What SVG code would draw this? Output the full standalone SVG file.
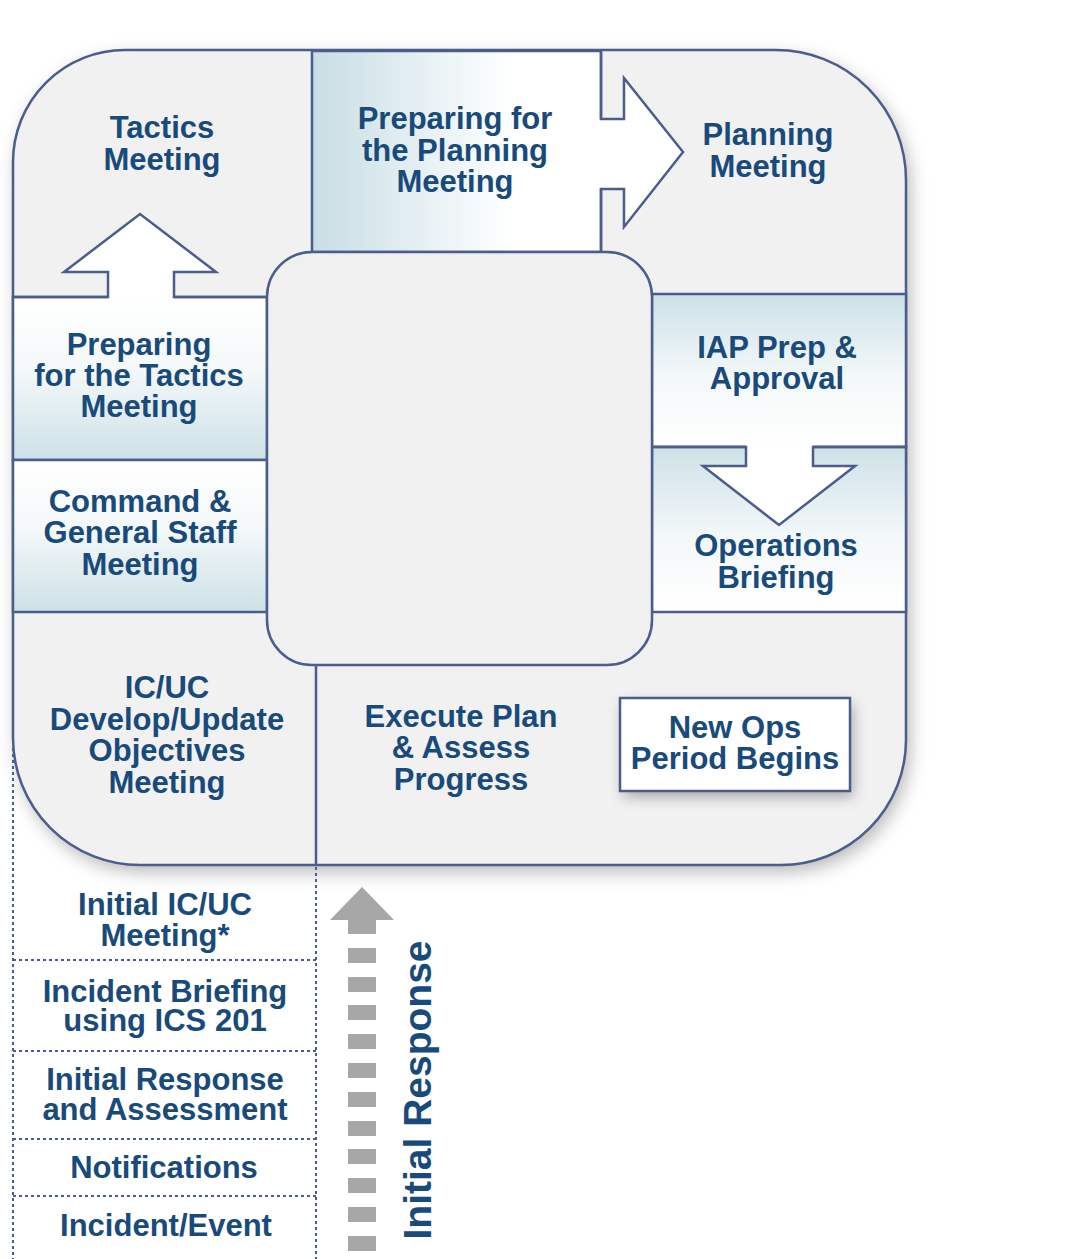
<svg xmlns="http://www.w3.org/2000/svg" width="1068" height="1259" viewBox="0 0 1068 1259">
<defs>
<style>
.ln{fill:none;stroke:#4a5d8c;stroke-width:2.5}
.dot{fill:none;stroke:#4a5d8c;stroke-width:2;stroke-dasharray:3 3}
.t{font-family:"Liberation Sans",Arial,Helvetica,sans-serif;font-weight:bold;font-size:31px;fill:#184a7b;text-anchor:middle}
.ar{fill:#ffffff;stroke:none}
</style>
<filter id="sh" x="-10%" y="-10%" width="125%" height="125%">
<feDropShadow dx="4" dy="7" stdDeviation="9" flood-color="#000" flood-opacity="0.28"/>
</filter>
<filter id="sh2" x="-20%" y="-20%" width="150%" height="160%">
<feDropShadow dx="3" dy="6" stdDeviation="7" flood-color="#000" flood-opacity="0.3"/>
</filter>
<linearGradient id="gH" x1="0" y1="0" x2="1" y2="0">
<stop offset="0" stop-color="#c8dee5"/>
<stop offset="0.7" stop-color="#ffffff"/>
<stop offset="1" stop-color="#ffffff"/>
</linearGradient>
<linearGradient id="gUp" x1="0" y1="0" x2="0" y2="1">
<stop offset="0" stop-color="#ffffff"/>
<stop offset="0.45" stop-color="#f4f8f9"/>
<stop offset="1" stop-color="#cde1e7"/>
</linearGradient>
<linearGradient id="gDn" x1="0" y1="0" x2="0" y2="1">
<stop offset="0" stop-color="#cde1e7"/>
<stop offset="0.55" stop-color="#f4f8f9"/>
<stop offset="1" stop-color="#ffffff"/>
</linearGradient>
</defs>
<rect x="0" y="0" width="1068" height="1259" fill="#ffffff"/>
<path id="outer" d="M 125 50 H 776 A 130 130 0 0 1 906 180 V 740 A 125 125 0 0 1 781 865 H 140 A 127 127 0 0 1 13 738 V 162 A 112 112 0 0 1 125 50 Z" fill="#f1f1f1" filter="url(#sh)"/>
<path d="M 125 50 H 776 A 130 130 0 0 1 906 180 V 740 A 125 125 0 0 1 781 865 H 140 A 127 127 0 0 1 13 738 V 162 A 112 112 0 0 1 125 50 Z" class="ln"/>

<g id="prep-planning">
<rect x="312" y="51" width="289" height="201" fill="url(#gH)" class="ln" style="fill:url(#gH)"/>
<text class="t" x="455" y="129">Preparing for</text>
<text class="t" x="455" y="161">the Planning</text>
<text class="t" x="455" y="192">Meeting</text>
</g>
<g id="prep-tactics">
<rect x="13" y="297" width="254" height="163" class="ln" style="fill:url(#gUp)"/>
<text class="t" x="139" y="355">Preparing</text>
<text class="t" x="139" y="386">for the Tactics</text>
<text class="t" x="139" y="417">Meeting</text>
</g>
<g id="command-general-staff">
<rect x="13" y="460" width="254" height="152" class="ln" style="fill:url(#gUp)"/>
<text class="t" x="140" y="512">Command &amp;</text>
<text class="t" x="140" y="543">General Staff</text>
<text class="t" x="140" y="575">Meeting</text>
</g>
<g id="iap-prep">
<rect x="652" y="294" width="254" height="153" class="ln" style="fill:url(#gDn)"/>
<text class="t" x="777" y="358">IAP Prep &amp;</text>
<text class="t" x="777" y="389">Approval</text>
</g>
<g id="operations-briefing">
<rect x="652" y="447" width="254" height="165" class="ln" style="fill:url(#gDn)"/>
<text class="t" x="776" y="556">Operations</text>
<text class="t" x="776" y="588">Briefing</text>
</g>
<g id="inner">
<rect x="267" y="252" width="385" height="413" rx="45" ry="45" fill="#f0f0f0" class="ln" style="fill:#f0f0f0"/>
</g>
<g id="execute-divider">
<line x1="316" y1="665" x2="316" y2="865" class="ln"/>
</g>

<g id="tactics-meeting">
<text class="t" x="162" y="138">Tactics</text>
<text class="t" x="162" y="170">Meeting</text>
</g>
<g id="planning-meeting">
<text class="t" x="768" y="145">Planning</text>
<text class="t" x="768" y="177">Meeting</text>
</g>
<g id="objectives-meeting">
<text class="t" x="167" y="698">IC/UC</text>
<text class="t" x="167" y="730">Develop/Update</text>
<text class="t" x="167" y="761">Objectives</text>
<text class="t" x="167" y="793">Meeting</text>
</g>
<g id="execute-plan">
<text class="t" x="461" y="727">Execute Plan</text>
<text class="t" x="461" y="758">&amp; Assess</text>
<text class="t" x="461" y="790">Progress</text>
</g>
<g id="new-ops-period">
<rect x="620" y="698" width="230" height="93" fill="#ffffff" filter="url(#sh2)"/>
<rect x="620" y="698" width="230" height="93" class="ln" style="fill:#ffffff"/>
<text class="t" x="735" y="738">New Ops</text>
<text class="t" x="735" y="769">Period Begins</text>
</g>

<g id="initial-response-column">
<line x1="13" y1="748" x2="13" y2="1259" class="dot"/>
<line x1="316" y1="867" x2="316" y2="1259" class="dot"/>
<line x1="13" y1="960" x2="316" y2="960" class="dot"/>
<line x1="13" y1="1051" x2="316" y2="1051" class="dot"/>
<line x1="13" y1="1139" x2="316" y2="1139" class="dot"/>
<line x1="13" y1="1196" x2="316" y2="1196" class="dot"/>
</g>
<g id="initial-meeting">
<text class="t" x="165" y="915">Initial IC/UC</text>
<text class="t" x="165" y="946">Meeting*</text>
</g>
<g id="incident-briefing">
<text class="t" x="165" y="1002">Incident Briefing</text>
<text class="t" x="165" y="1031">using ICS 201</text>
</g>
<g id="initial-response-assessment">
<text class="t" x="165" y="1090">Initial Response</text>
<text class="t" x="165" y="1120">and Assessment</text>
</g>
<g id="notifications">
<text class="t" x="164" y="1178">Notifications</text>
</g>
<g id="incident-event">
<text class="t" x="166" y="1236">Incident/Event</text>
</g>

<g id="connectors">
<g id="arrow-to-planning">
<polygon class="ar" points="599,119 624,119 624,78 683,152 624,227 624,189 599,189"/>
<polyline class="ln" points="601,52 601,119 624,119 624,78 683,152 624,227 624,189 601,189 601,252"/>
</g>
<g id="arrow-to-tactics">
<polygon class="ar" points="108,299 108,272 64,272 140,214 216,272 174,272 174,299"/>
<polyline class="ln" points="13,297 108,297 108,272 64,272 140,214 216,272 174,272 174,297 267,297"/>
</g>
<g id="arrow-to-ops">
<polygon class="ar" points="746,445 746,466 703,466 779,525 855,466 813,466 813,445"/>
<polyline class="ln" points="652,447 746,447 746,466 703,466 779,525 855,466 813,466 813,447 906,447"/>
</g>
<g id="initial-response-arrow" fill="#a7a7a7">
<polygon points="330,920 362,887 394,920 376,920 376,934 348,934 348,920"/>
<rect x="348" y="948" width="28" height="15"/>
<rect x="348" y="977" width="28" height="15"/>
<rect x="348" y="1005" width="28" height="15"/>
<rect x="348" y="1034" width="28" height="15"/>
<rect x="348" y="1063" width="28" height="15"/>
<rect x="348" y="1092" width="28" height="15"/>
<rect x="348" y="1121" width="28" height="15"/>
<rect x="348" y="1149" width="28" height="15"/>
<rect x="348" y="1178" width="28" height="15"/>
<rect x="348" y="1207" width="28" height="15"/>
<rect x="348" y="1236" width="28" height="15"/>
</g>
<text class="t" style="font-size:39px" transform="translate(431,1090) rotate(-90)">Initial Response</text>
</g>
</svg>
